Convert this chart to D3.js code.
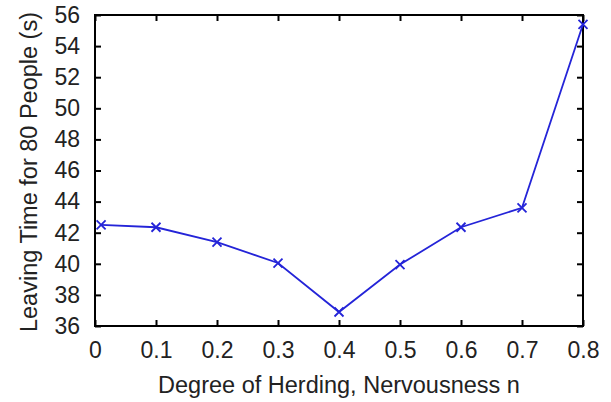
<!DOCTYPE html>
<meta charset="utf-8">
<style>
body { margin: 0; background: white; }
svg { font-family: "Liberation Sans", Arial, sans-serif; }
.frame { fill: none; stroke: black; stroke-width: 2px; }
.tick line { stroke: black; stroke-width: 2px; }
.tick text { font-size: 23px; fill: #222; }
.domain { display: none; }
.line { fill: none; stroke: #2424d8; stroke-width: 1.8px; }
.mark { stroke: #2424d8; stroke-width: 1.8px; }
.title { font-size: 23.5px; fill: #222; }
</style>
<body>
<svg width="611" height="402"></svg>
</body>
<script src="https://d3js.org/d3.v7.min.js"></script>
<script>

// herding degree vs leaving time
var herding = [0.01, 0.1, 0.2, 0.3, 0.4, 0.5, 0.6, 0.7, 0.8];
var leaving = [42.5, 42.35, 41.4, 40.05, 36.9, 39.95, 42.35, 43.6, 55.4];
var xTicks = [0, 0.1, 0.2, 0.3, 0.4, 0.5, 0.6, 0.7, 0.8];
var yTicks = [36, 38, 40, 42, 44, 46, 48, 50, 52, 54, 56];

var svg = d3.select("svg");
var mLeft = 95, mRight = 583, mTop = 15, mBottom = 326;

var x = d3.scaleLinear().domain([0, 0.8]).range([mLeft, mRight]);
var y = d3.scaleLinear().domain([36, 56]).range([mBottom, mTop]);

// axes, ticks pointing inward
svg.append("g")
  .attr("transform", "translate(0," + mBottom + ")")
  .call(d3.axisBottom(x).tickValues(xTicks).tickSize(-6).tickPadding(16)
    .tickFormat(function(d) { return d === 0 ? "0" : d3.format(".1f")(d); }));

svg.append("g")
  .attr("transform", "translate(0," + mTop + ")")
  .call(d3.axisTop(x).tickValues(xTicks).tickSize(-6).tickFormat(""));

svg.append("g")
  .attr("transform", "translate(" + mLeft + ",0)")
  .call(d3.axisLeft(y).tickValues(yTicks).tickSize(-6).tickPadding(15));

svg.append("g")
  .attr("transform", "translate(" + mRight + ",0)")
  .call(d3.axisRight(y).tickValues(yTicks).tickSize(-6).tickFormat(""));

svg.append("rect")
  .attr("class", "frame")
  .attr("x", mLeft).attr("y", mTop)
  .attr("width", mRight - mLeft).attr("height", mBottom - mTop);

// series
var line = d3.line()
  .x(function(d, i) { return x(herding[i]); })
  .y(function(d) { return y(d); });

svg.append("path")
  .datum(leaving)
  .attr("class", "line")
  .attr("d", line);

var s = 4.5;
svg.append("g").selectAll("path")
  .data(leaving)
  .enter().append("path")
    .attr("class", "mark")
    .attr("d", function(d, i) {
      var cx = x(herding[i]), cy = y(d);
      return "M" + (cx - s) + "," + (cy - s) + "L" + (cx + s) + "," + (cy + s) +
             "M" + (cx - s) + "," + (cy + s) + "L" + (cx + s) + "," + (cy - s);
    });

// titles
svg.append("text")
  .attr("class", "title")
  .attr("x", 339).attr("y", 393)
  .attr("text-anchor", "middle")
  .text("Degree of Herding, Nervousness n");

svg.append("text")
  .attr("class", "title")
  .attr("transform", "translate(37,172) rotate(-90)")
  .attr("text-anchor", "middle")
  .text("Leaving Time for 80 People (s)");

</script>
